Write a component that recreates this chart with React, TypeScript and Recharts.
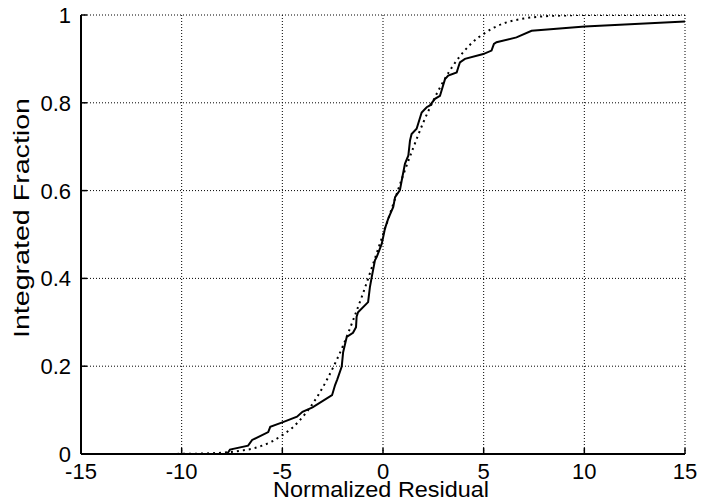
import React from "react";
import {
  LineChart,
  Line,
  XAxis,
  YAxis,
  CartesianGrid,
  Label,
} from "recharts";

// empirical distribution of the normalized residuals (solid)
const residualX = [
  -7.75, -7.6, -6.7, -6.5, -5.7, -5.6, -5.0, -4.27, -4.0, -3.5, -2.53, -2.38,
  -2.27, -2.05, -1.98, -1.8, -1.49, -1.34, -1.31, -1.24, -0.74, -0.65, -0.56,
  -0.4, -0.31, -0.06, 0.1, 0.26, 0.51, 0.6, 0.84, 0.93, 1.09, 1.26, 1.34, 1.42,
  1.67, 1.92, 2.17, 2.33, 2.58, 2.83, 2.91, 3.08, 3.24, 3.66, 3.74, 3.82, 4.07,
  4.98, 5.39, 5.51, 5.64, 6.63, 7.38, 10.02, 15,
];
const residualFrac = [
  0, 0.01, 0.019, 0.032, 0.05, 0.062, 0.072, 0.085, 0.096, 0.106, 0.134, 0.157,
  0.17, 0.199, 0.232, 0.267, 0.276, 0.289, 0.313, 0.323, 0.346, 0.38, 0.403,
  0.441, 0.449, 0.479, 0.514, 0.536, 0.563, 0.585, 0.601, 0.623, 0.661, 0.68,
  0.714, 0.729, 0.741, 0.778, 0.79, 0.794, 0.809, 0.816, 0.828, 0.854, 0.862,
  0.869, 0.881, 0.892, 0.9, 0.911, 0.919, 0.934, 0.938, 0.949, 0.964, 0.974,
  0.985,
];

// expected gaussian curve (dotted)
const normalX = [
  -15, -10, -9, -8, -7, -6.5, -6, -5.5, -5, -4.5, -4, -3.5, -3, -2.5, -2, -1.5,
  -1, -0.5, 0, 0.5, 1, 1.5, 2, 2.5, 3, 3.5, 4, 4.5, 5, 5.5, 6, 7, 8, 9, 10, 15,
];
const normalFrac = [
  0, 0.0003, 0.001, 0.003, 0.008, 0.012, 0.019, 0.029, 0.043, 0.06, 0.084,
  0.114, 0.151, 0.195, 0.245, 0.303, 0.365, 0.432, 0.5, 0.568, 0.635, 0.697,
  0.755, 0.805, 0.849, 0.886, 0.916, 0.94, 0.957, 0.971, 0.981, 0.992, 0.997,
  0.999, 1, 1,
];

const xTicks = [-15, -10, -5, 0, 5, 10, 15];
const yTicks = [0, 0.2, 0.4, 0.6, 0.8, 1];

const empirical = residualX.map((x, i) => ({ x, y: residualFrac[i] }));
const normal = normalX.map((x, i) => ({ x, y: normalFrac[i] }));

const FONT = '"Liberation Sans", Arial, Helvetica, sans-serif';

const BottomTick = ({ x, y, payload }: any) => (
  <g>
    <line x1={x} y1={y} x2={x} y2={y - 6} stroke="#000" strokeWidth={1.5} />
    <text x={x} y={y + 25} textAnchor="middle" fontSize={22} fontFamily={FONT} fill="#000">
      {payload.value}
    </text>
  </g>
);

const LeftTick = ({ x, y, payload }: any) => (
  <g>
    <line x1={x} y1={y} x2={x + 6} y2={y} stroke="#000" strokeWidth={1.5} />
    <text x={x - 10} y={y + 8} textAnchor="end" fontSize={22} fontFamily={FONT} fill="#000">
      {payload.value}
    </text>
  </g>
);

const TopTick = ({ x, y }: any) => (
  <line x1={x} y1={y} x2={x} y2={y + 6} stroke="#000" strokeWidth={1.5} />
);

const RightTick = ({ x, y }: any) => (
  <line x1={x} y1={y} x2={x - 6} y2={y} stroke="#000" strokeWidth={1.5} />
);

const XTitle = ({ viewBox }: any) => (
  <text
    x={viewBox.x + viewBox.width / 2 - 2}
    y={viewBox.y + 43}
    textAnchor="middle"
    fontSize={22}
    textLength={216}
    lengthAdjust="spacingAndGlyphs"
    fontFamily={FONT}
    fill="#000"
  >
    Normalized Residual
  </text>
);

const YTitle = ({ viewBox }: any) => {
  const cx = viewBox.x + 29;
  const cy = 218;
  return (
    <text
      x={cx}
      y={cy}
      transform={`rotate(-90, ${cx}, ${cy})`}
      textAnchor="middle"
      fontSize={22}
      textLength={240}
      lengthAdjust="spacingAndGlyphs"
      fontFamily={FONT}
      fill="#000"
    >
      Integrated Fraction
    </text>
  );
};

const axisLine = { stroke: "#000", strokeWidth: 2 };

export default function App() {
  return (
    <div style={{ position: "absolute", left: 0, top: 0, background: "#fff" }}>
      <LineChart
        width={704}
        height={501}
        margin={{ top: 15, right: 19, bottom: 0, left: 0 }}
      >
        <CartesianGrid
          stroke="#000"
          strokeWidth={1}
          strokeDasharray="1 2"
          horizontalValues={yTicks}
          verticalValues={xTicks}
        />
        <XAxis
          type="number"
          dataKey="x"
          domain={[-15, 15]}
          ticks={xTicks}
          interval={0}
          height={47}
          tickSize={0}
          tickMargin={0}
          tickLine={false}
          axisLine={axisLine}
          tick={<BottomTick />}
          allowDataOverflow
        >
          <Label content={<XTitle />} />
        </XAxis>
        <XAxis
          xAxisId="top"
          orientation="top"
          type="number"
          dataKey="x"
          domain={[-15, 15]}
          ticks={xTicks}
          interval={0}
          height={0}
          tickSize={0}
          tickMargin={0}
          tickLine={false}
          axisLine={axisLine}
          tick={<TopTick />}
          allowDataOverflow
        />
        <YAxis
          type="number"
          domain={[0, 1]}
          ticks={yTicks}
          interval={0}
          width={81}
          tickSize={0}
          tickMargin={0}
          tickLine={false}
          axisLine={axisLine}
          tick={<LeftTick />}
          allowDataOverflow
        >
          <Label content={<YTitle />} />
        </YAxis>
        <YAxis
          yAxisId="right"
          orientation="right"
          type="number"
          domain={[0, 1]}
          ticks={yTicks}
          interval={0}
          width={0}
          tickSize={0}
          tickMargin={0}
          tickLine={false}
          axisLine={axisLine}
          tick={<RightTick />}
          allowDataOverflow
        />
        <Line
          data={normal}
          dataKey="y"
          type="monotone"
          stroke="#000"
          strokeWidth={2}
          strokeDasharray="2 4"
          dot={false}
          isAnimationActive={false}
        />
        <Line
          data={empirical}
          dataKey="y"
          type="linear"
          stroke="#000"
          strokeWidth={2}
          dot={false}
          isAnimationActive={false}
        />
      </LineChart>
    </div>
  );
}
